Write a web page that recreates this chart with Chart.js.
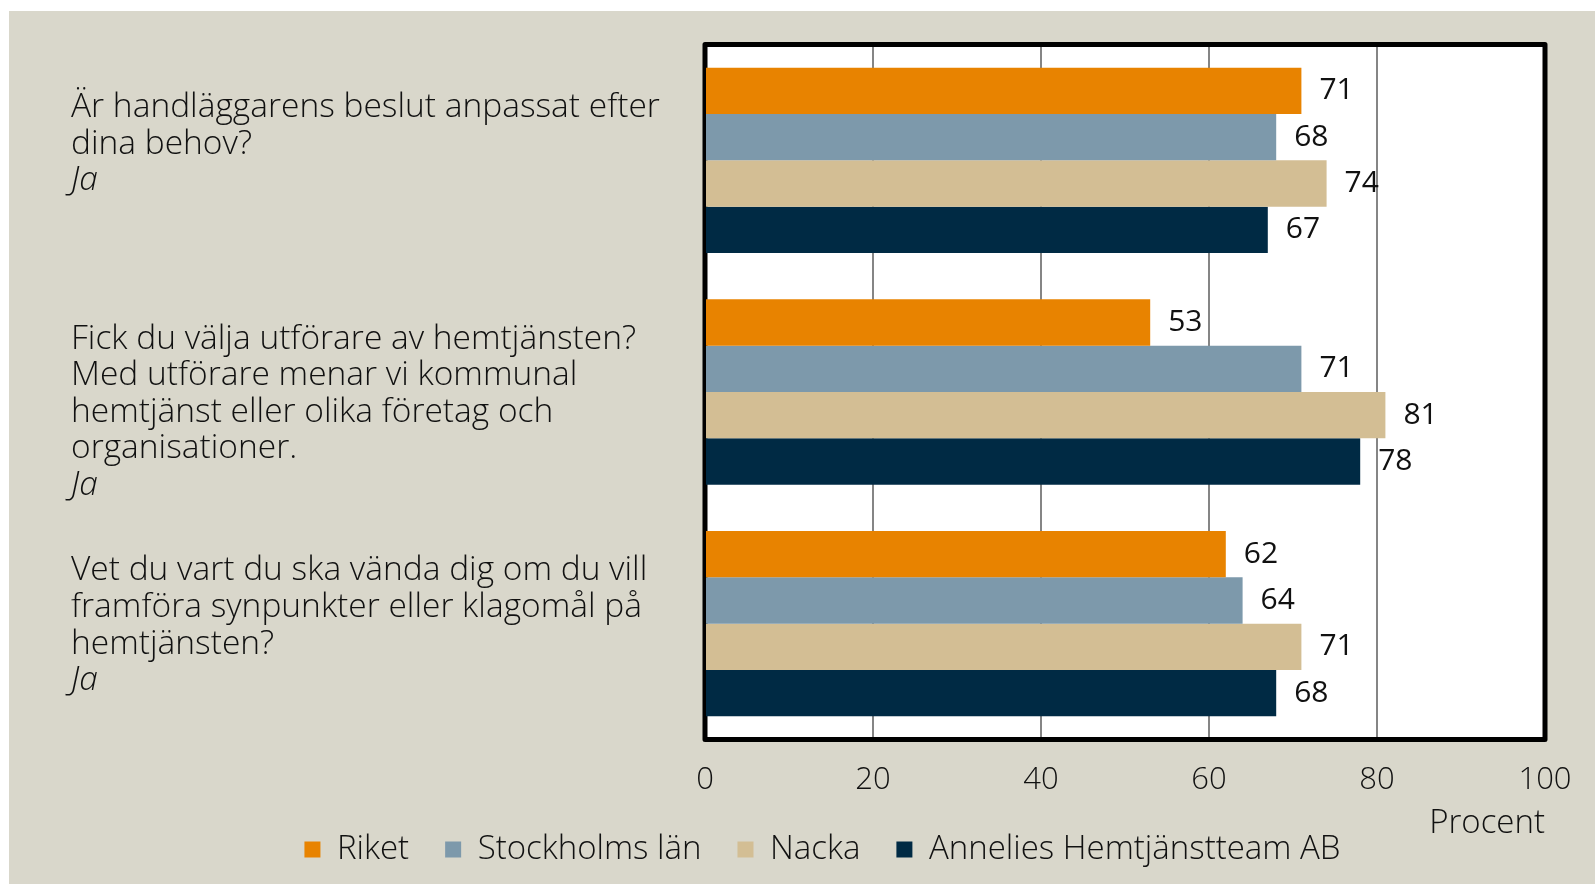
<!DOCTYPE html>
<html>
<head>
<meta charset="utf-8">
<script src="https://cdn.jsdelivr.net/npm/chart.js@4.4.1/dist/chart.umd.min.js"></script>
<style>
  html, body { margin: 0; padding: 0; background: #ffffff; }
  #wrap { position: absolute; left: 9px; top: 11px; width: 1586px; height: 873px; background: #d9d7cb; }
</style>
</head>
<body>
<div id="wrap"><canvas id="chart"></canvas></div>
<script>
// question texts (blank lines mimic the original label wrapping)
const questions = [
  ["Är handläggarens beslut anpassat efter", "dina behov?"],
  ["", "Fick du välja utförare av hemtjänsten?", "Med utförare menar vi kommunal", "hemtjänst eller olika företag och", "organisationer."],
  ["Vet du vart du ska vända dig om du vill", "framföra synpunkter eller klagomål på", "hemtjänsten?"]
];
const answers = ["Ja", "Ja", "Ja"];
const trailing = [1, 0, 0]; // empty lines after the answer

const seriesNames = ["Riket", "Stockholms län", "Nacka", "Annelies Hemtjänstteam AB"];
const riket = [71, 53, 62];
const stockholm = [68, 71, 64];
const nacka = [74, 81, 71];
const annelies = [67, 78, 68];
const colors = ["#e88300", "#7d99ab", "#d3be94", "#002a44"];

const xTicks = [0, 20, 40, 60, 80, 100];
const font = '"Open Sans", "Liberation Sans", sans-serif';

const frame = {
  id: "frame",
  beforeDraw(chart) {
    const a = chart.chartArea, ctx = chart.ctx;
    ctx.save();
    ctx.fillStyle = "#ffffff";
    ctx.fillRect(a.left, a.top, a.right - a.left, a.bottom - a.top);
    ctx.restore();
  },
  beforeDatasetsDraw(chart) {
    const a = chart.chartArea, ctx = chart.ctx;
    ctx.save();
    ctx.strokeStyle = "#000000";
    ctx.lineWidth = 5;
    ctx.lineJoin = "round";
    ctx.strokeRect(a.left, a.top, a.right - a.left, a.bottom - a.top);
    ctx.restore();
  }
};

const valueLabels = {
  id: "valueLabels",
  afterDatasetsDraw(chart) {
    const ctx = chart.ctx;
    ctx.save();
    ctx.font = "30px " + font;
    ctx.fillStyle = "#111111";
    ctx.textBaseline = "middle";
    chart.data.datasets.forEach((ds, di) => {
      chart.getDatasetMeta(di).data.forEach((bar, i) => {
        ctx.fillText(ds.data[i], bar.x + 18, bar.y);
      });
    });
    ctx.restore();
  }
};

const questionLabels = {
  id: "questionLabels",
  afterDraw(chart) {
    const ctx = chart.ctx, y = chart.scales.y, lh = 36.6;
    ctx.save();
    ctx.fillStyle = "#111111";
    ctx.textBaseline = "middle";
    ctx.textAlign = "left";
    questions.forEach((lines, i) => {
      const n = lines.length + 1 + trailing[i];
      let ty = y.getPixelForValue(i) - (n - 1) / 2 * lh + 2;
      ctx.font = "300 33.5px " + font;
      lines.forEach(t => { ctx.fillText(t, 62, ty); ty += lh; });
      ctx.font = "italic 300 33.5px " + font;
      ctx.fillText(answers[i], 62, ty);
    });
    ctx.restore();
  }
};

new Chart(document.getElementById("chart"), {
  type: "bar",
  data: {
    labels: questions.map(q => q.filter(t => t).join(" ")),
    datasets: [riket, stockholm, nacka, annelies].map((d, i) => ({
      label: seriesNames[i],
      data: d,
      backgroundColor: colors[i],
      borderWidth: 0,
      barPercentage: 1,
      categoryPercentage: 0.8
    }))
  },
  options: {
    indexAxis: "y",
    responsive: true,
    maintainAspectRatio: false,
    animation: false,
    layout: { padding: { left: 91, right: 50, top: 33.5, bottom: 8 } },
    scales: {
      x: {
        min: 0, max: 100,
        afterBuildTicks: s => { s.ticks = xTicks.map(v => ({ value: v })); },
        ticks: { padding: 22, color: "#111111", font: { size: 31, family: font, weight: "300" }, maxRotation: 0 },
        grid: {
          color: c => (c.tick && (c.tick.value === 0 || c.tick.value === 100)) ? "rgba(0,0,0,0)" : "#858585",
          lineWidth: 2,
          drawTicks: false
        },
        border: { display: false },
        title: {
          display: true, text: "Procent", align: "end", color: "#111111",
          font: { size: 33, family: font, weight: "300" }, padding: { top: 0, bottom: -46 }
        },
        afterFit: s => { s.height = 57.5; }
      },
      y: {
        ticks: { display: false },
        grid: { display: false },
        border: { display: false },
        afterFit: s => { s.width = 605; }
      }
    },
    plugins: {
      legend: {
        position: "bottom",
        labels: {
          boxWidth: 16, boxHeight: 16, padding: 36,
          color: "#111111", font: { size: 33, family: font, weight: "300" }
        }
      },
      tooltip: { enabled: false }
    }
  },
  plugins: [frame, valueLabels, questionLabels]
});
</script>
</body>
</html>
